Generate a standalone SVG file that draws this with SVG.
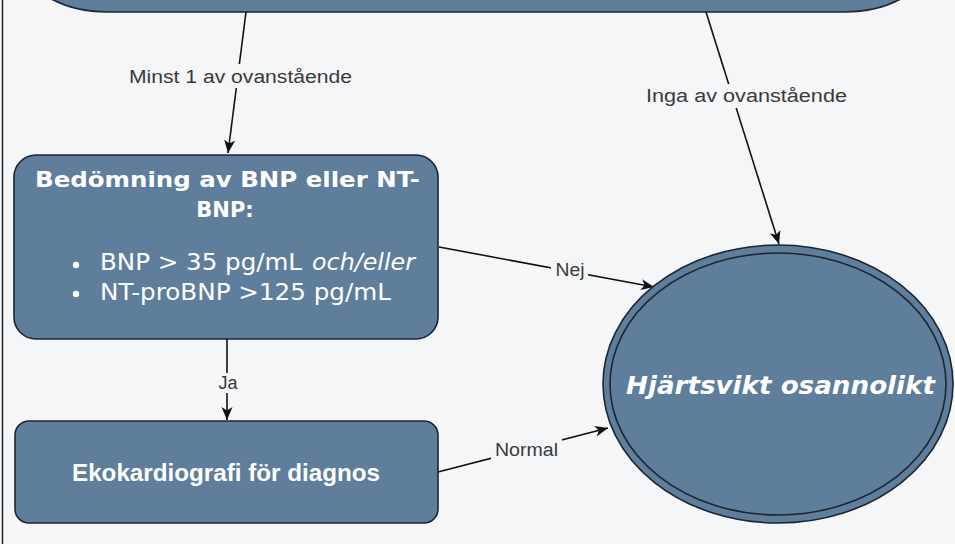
<svg xmlns="http://www.w3.org/2000/svg" width="955" height="544" viewBox="0 0 955 544">
<style>
.node{fill:#5E7E9C;stroke:#1C2530;stroke-width:1.6}
.edge{fill:none;stroke:#111;stroke-width:1.6}
.lbl{font-family:"Liberation Sans",Arial,sans-serif;font-size:18px;fill:#3A3A3A;text-anchor:middle}
.lblbg{fill:#F4F6F8}
.t{font-family:"DejaVu Sans",Verdana,sans-serif;fill:#FFFFFF}
.tb{font-weight:bold}
.ek{font-family:"Liberation Sans",Arial,sans-serif;font-weight:bold;font-size:24px;fill:#FFFFFF;text-anchor:middle}
</style>
<defs>
<marker id="arr" markerUnits="userSpaceOnUse" markerWidth="14" markerHeight="12" refX="13" refY="5.5" orient="auto">
<path d="M0,0 L13,5.5 L0,11 L3.5,5.5 z" fill="#111"/>
</marker>
</defs>
<rect x="0" y="0" width="955" height="544" fill="#F4F6F8"/>
<line x1="2.5" y1="0" x2="2.5" y2="544" stroke="#222" stroke-width="1.5"/>

<g id="top-node">
<rect class="node" x="14" y="-120" width="924" height="132" rx="93" ry="93"/>
</g>

<g id="connectors">
<line class="edge" x1="246" y1="12" x2="228" y2="153" marker-end="url(#arr)"/>
<line class="edge" x1="706" y1="12" x2="779" y2="244" marker-end="url(#arr)"/>
<line class="edge" x1="227" y1="339" x2="227" y2="420" marker-end="url(#arr)"/>
<line class="edge" x1="439" y1="247" x2="654" y2="287" marker-end="url(#arr)"/>
<line class="edge" x1="438" y1="472" x2="608" y2="428" marker-end="url(#arr)"/>
<rect class="lblbg" x="126" y="64" width="230" height="24"/>
<text class="lbl" x="240.5" y="83" textLength="223" lengthAdjust="spacingAndGlyphs">Minst 1 av ovanstående</text>
<rect class="lblbg" x="643" y="84" width="207" height="24"/>
<text class="lbl" x="746.5" y="102" textLength="201" lengthAdjust="spacingAndGlyphs">Inga av ovanstående</text>
<rect class="lblbg" x="214" y="373" width="28" height="20"/>
<text class="lbl" x="228" y="389">Ja</text>
<rect class="lblbg" x="551" y="259" width="37" height="22"/>
<text class="lbl" x="570" y="276" textLength="29" lengthAdjust="spacingAndGlyphs">Nej</text>
<rect class="lblbg" x="491" y="438" width="71" height="23"/>
<text class="lbl" x="526.5" y="456" textLength="63" lengthAdjust="spacingAndGlyphs">Normal</text>
</g>

<g id="bnp-node">
<rect class="node" x="14" y="155" width="424" height="184" rx="22" ry="22"/>
<text class="t tb" x="227.5" y="187" font-size="21" text-anchor="middle" textLength="385" lengthAdjust="spacingAndGlyphs">Bedömning av BNP eller NT-</text>
<text class="t tb" x="225" y="217" font-size="21" text-anchor="middle">BNP:</text>
<circle cx="76" cy="265" r="3.2" fill="#FFFFFF"/>
<circle cx="76" cy="294" r="3.2" fill="#FFFFFF"/>
<text class="t" x="100" y="270" font-size="23" textLength="202" lengthAdjust="spacingAndGlyphs">BNP &gt; 35 pg/mL</text>
<text class="t" x="312" y="270" font-size="23" font-style="italic" textLength="103" lengthAdjust="spacingAndGlyphs">och/eller</text>
<text class="t" x="100" y="300" font-size="23" textLength="291" lengthAdjust="spacingAndGlyphs">NT-proBNP &gt;125 pg/mL</text>
</g>

<g id="eko-node">
<rect class="node" x="15" y="421" width="423" height="102" rx="14" ry="14"/>
<text class="ek" x="226" y="481" textLength="308" lengthAdjust="spacingAndGlyphs">Ekokardiografi för diagnos</text>
</g>

<g id="end-node">
<ellipse class="node" cx="778" cy="384" rx="175" ry="139"/>
<ellipse cx="778" cy="384" rx="168" ry="131" fill="none" stroke="#1C2530" stroke-width="1.6"/>
<text class="t tb" x="780.5" y="394" font-size="24" font-style="italic" text-anchor="middle" textLength="309" lengthAdjust="spacingAndGlyphs">Hjärtsvikt osannolikt</text>
</g>
</svg>
